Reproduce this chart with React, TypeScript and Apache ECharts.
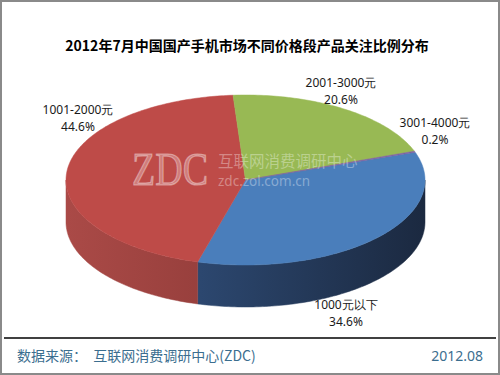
import React, { useEffect, useRef } from 'react';
import * as echarts from 'echarts';

const titleText = '2012年7月中国国产手机市场不同价格段产品关注比例分布';
const categories = ['1000元以下', '1001-2000元', '2001-3000元', '3001-4000元'];
const shares = [34.6, 44.6, 20.6, 0.2];
const sourceText = '数据来源：  互联网消费调研中心(ZDC)';
const dateText = '2012.08';

const topColors = ['#4a7ebb', '#be4b48', '#98b954', '#7d60a0'];
const sideColors = [
  ['#36598b', '#1b2940'],
  ['#aa4a47', '#7a2e2c'],
  ['#7f9b44', '#5f7336'],
  ['#654c85', '#4a3762'],
];
const labelAnchors = [
  [346, 313],
  [78, 118],
  [341, 91],
  [435, 131],
];

const CX = 245.5;
const CY = 180;
const RX = 179.5;
const RY = 85;
const DEPTH = 42;
const START = 70.9;

function pt(theta: number, dy = 0): number[] {
  const r = (theta * Math.PI) / 180;
  return [CX + RX * Math.sin(r), CY - RY * Math.cos(r) + dy];
}
function arc(a: number, b: number, dy: number): number[][] {
  const pts: number[][] = [];
  const n = Math.max(2, Math.ceil(Math.abs(b - a)));
  for (let i = 0; i <= n; i++) pts.push(pt(a + ((b - a) * i) / n, dy));
  return pts;
}

export default function App() {
  const ref = useRef<HTMLDivElement>(null);
  useEffect(() => {
    if (!ref.current) return;
    const chart = echarts.init(ref.current, null, { renderer: 'svg' });
    const total = shares.reduce((s, v) => s + v, 0);
    const renderItem = (params: any, api: any) => {
      const i = params.dataIndex;
      let before = 0;
      for (let k = 0; k < i; k++) before += shares[k];
      const a = START + (360 * before) / total;
      const b = a + (360 * api.value(0)) / total;
      const children: any[] = [];
      for (const [lo, hi] of [
        [90, 270],
        [450, 630],
      ]) {
        const s = Math.max(a, lo);
        const e = Math.min(b, hi);
        if (e > s) {
          const grad = new echarts.graphic.LinearGradient(
            CX - RX,
            0,
            CX + RX,
            0,
            [
              { offset: 0, color: sideColors[i][0] },
              { offset: 1, color: sideColors[i][1] },
            ],
            true
          );
          children.push({
            type: 'polygon',
            z2: 1,
            shape: { points: arc(s, e, 0).concat(arc(e, s, DEPTH)) },
            style: { fill: grad, stroke: grad, lineWidth: 0.5 },
          });
        }
      }
      children.push({
        type: 'polygon',
        z2: 10,
        shape: { points: [[CX, CY]].concat(arc(a, b, 0)) },
        style: { fill: topColors[i], stroke: topColors[i], lineWidth: 0.5 },
      });
      return { type: 'group', children };
    };

    const labelFont = '12px "Noto Sans", sans-serif';
    const graphics: any[] = [
      {
        type: 'rect',
        z: 0,
        shape: { x: 1, y: 1, width: 498, height: 373 },
        style: { fill: '#ffffff', stroke: '#8a8a8a', lineWidth: 2 },
      },
      {
        type: 'text',
        z: 20,
        style: {
          text: titleText,
          x: 247,
          y: 45,
          textAlign: 'center',
          textVerticalAlign: 'middle',
          font: 'bold 14px "Noto Sans CJK SC", sans-serif',
          fill: '#000000',
        },
      },
      {
        type: 'line',
        z: 20,
        shape: { x1: 4, y1: 338, x2: 496, y2: 338 },
        style: { stroke: '#000000', lineWidth: 1.5 },
      },
      {
        type: 'text',
        z: 20,
        style: {
          text: sourceText,
          x: 17,
          y: 355,
          textAlign: 'left',
          textVerticalAlign: 'middle',
          font: '14px "Noto Sans CJK SC", sans-serif',
          fill: '#3b6e8f',
        },
      },
      {
        type: 'text',
        z: 20,
        style: {
          text: dateText,
          x: 483,
          y: 355,
          textAlign: 'right',
          textVerticalAlign: 'middle',
          font: '14px "Noto Sans", sans-serif',
          fill: '#3b6e8f',
        },
      },
      {
        type: 'text',
        z: 30,
        x: 132,
        y: 169,
        scaleY: 1.22,
        style: {
          text: 'ZDC',
          x: 0,
          y: 0,
          textAlign: 'left',
          textVerticalAlign: 'middle',
          font: '38px "Liberation Serif", serif',
          fill: 'rgba(255,255,255,0.28)',
          stroke: 'rgba(255,255,255,0.38)',
          lineWidth: 1,
        },
      },
      {
        type: 'text',
        z: 30,
        style: {
          text: '互联网消费调研中心',
          x: 218,
          y: 160,
          textAlign: 'left',
          textVerticalAlign: 'middle',
          font: '15.5px "Noto Sans CJK SC", sans-serif',
          lineHeight: 15,
          fill: 'rgba(255,255,255,0.35)',
        },
      },
      {
        type: 'text',
        z: 30,
        style: {
          text: 'zdc.zol.com.cn',
          x: 218,
          y: 181,
          textAlign: 'left',
          textVerticalAlign: 'middle',
          font: '13.5px "Noto Sans", sans-serif',
          lineHeight: 13,
          fill: 'rgba(255,255,255,0.35)',
        },
      },
    ];
    categories.forEach((c, i) => {
      graphics.push({
        type: 'text',
        z: 20,
        style: {
          text: `${c}\n${shares[i]}%`,
          x: labelAnchors[i][0],
          y: labelAnchors[i][1],
          textAlign: 'center',
          textVerticalAlign: 'middle',
          font: labelFont,
          lineHeight: 17,
          fill: '#1a1a1a',
        },
      });
    });

    chart.setOption({
      animation: false,
      backgroundColor: '#ffffff',
      graphic: graphics,
      series: [
        {
          type: 'custom',
          coordinateSystem: 'none',
          z: 10,
          silent: true,
          renderItem,
          data: shares.map((v, i) => ({ name: categories[i], value: v })),
        },
      ],
    });
    return () => chart.dispose();
  }, []);
  return (
    <div
      ref={ref}
      style={{ position: 'fixed', left: 0, top: 0, width: 500, height: 375 }}
    />
  );
}
